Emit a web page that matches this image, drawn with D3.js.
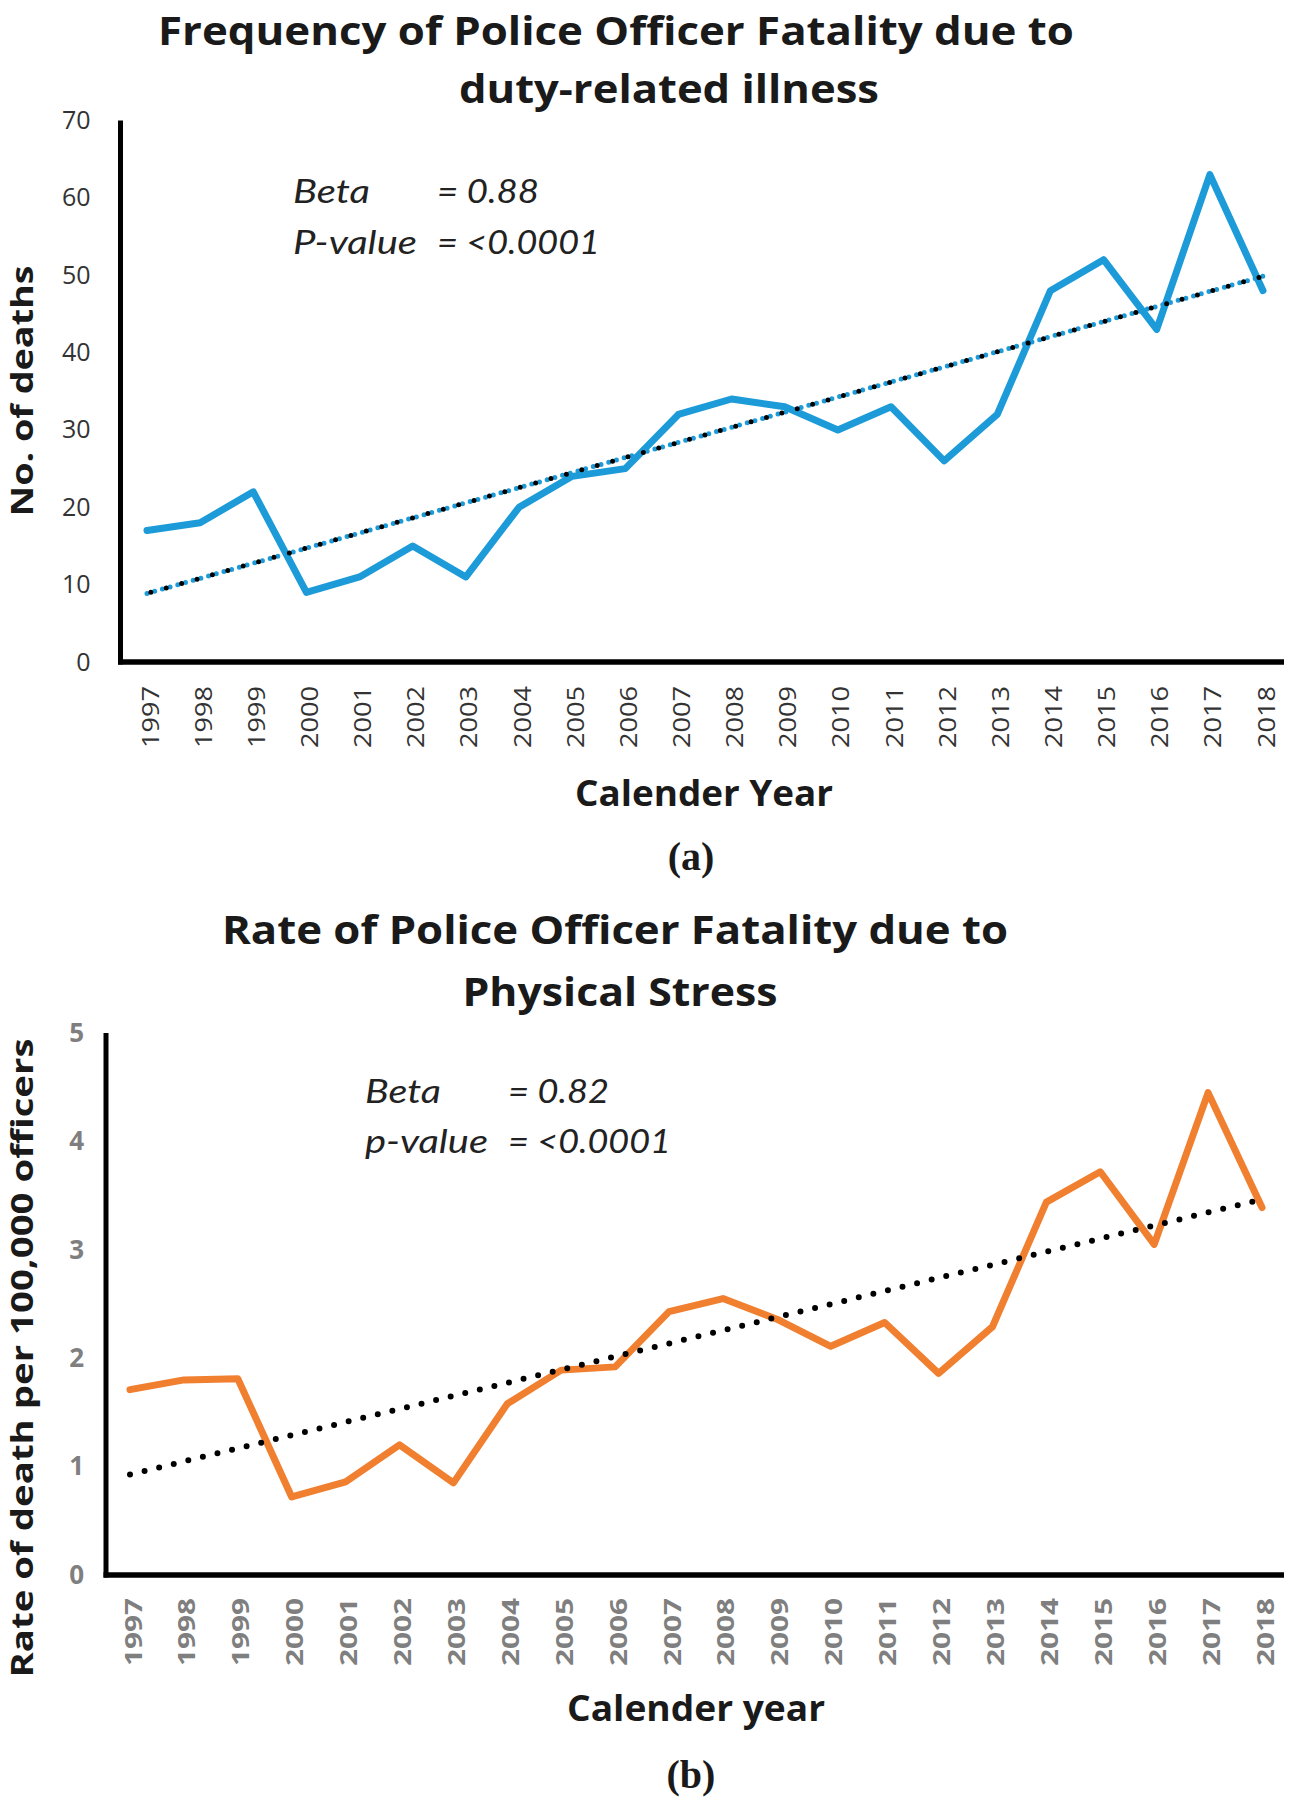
<!DOCTYPE html>
<html><head><meta charset="utf-8">
<script src="https://cdn.jsdelivr.net/npm/d3@7"></script>
<style>body{margin:0;background:#fff}svg{display:block}</style>
</head><body>
<script>
const years = ["1997","1998","1999","2000","2001","2002","2003","2004","2005","2006","2007","2008","2009","2010","2011","2012","2013","2014","2015","2016","2017","2018"];
const deaths = [17,18,22,9,11,15,11,20,24,25,32,34,33,30,33,26,32,48,52,43,63,48];
const rates = [1.71,1.80,1.81,0.72,0.86,1.20,0.85,1.58,1.89,1.92,2.43,2.55,2.36,2.11,2.33,1.86,2.29,3.44,3.72,3.05,4.45,3.39];
const ticksA = [0,10,20,30,40,50,60,70];
const ticksB = [0,1,2,3,4,5];
const titleA = ["Frequency of Police Officer Fatality due to","duty-related illness"];
const titleB = ["Rate of Police Officer Fatality due to","Physical Stress"];
const annA = [["Beta","= 0.88"],["P-value","= <0.0001"]];
const annB = [["Beta","= 0.82"],["p-value","= <0.0001"]];

function fit(vals){
  const n=vals.length, mx=(n-1)/2, my=d3.mean(vals);
  let sxy=0,sxx=0; vals.forEach((v,i)=>{sxy+=(i-mx)*(v-my);sxx+=(i-mx)*(i-mx);});
  const b=sxy/sxx, a=my-b*mx; return i=>a+b*i;
}

const svg = d3.select("body").append("svg").attr("width",1289).attr("height",1800);
const TF = "'Open Sans', 'DejaVu Sans', sans-serif";

function panel(cfg){
  const g = svg.append("g");
  const x = d3.scalePoint().domain(years).range(cfg.xr);
  const y = d3.scaleLinear().domain(cfg.yd).range(cfg.yr);
  cfg.title.forEach((t,i)=>{
    g.append("text").attr("x",cfg.tc[i][0]).attr("y",cfg.tc[i][1]).attr("text-anchor","middle")
     .attr("dominant-baseline","central").attr("font-family",TF).attr("font-weight","bold")
     .attr("font-size",40).attr("fill","#1a1a1a")
     .attr("textLength",cfg.tw[i]).attr("lengthAdjust","spacingAndGlyphs").text(t);
  });
  const ya = g.append("g").attr("transform",`translate(${cfg.yx},0)`)
    .call(d3.axisLeft(y).tickValues(cfg.ticks).tickSize(0).tickPadding(cfg.tp).tickFormat(d3.format("d")));
  ya.select(".domain").remove();
  ya.selectAll("text").attr("font-family",TF).attr("font-size",cfg.ytfs).attr("font-weight",cfg.ytw).attr("fill",cfg.ytc);
  const xa = g.append("g").attr("transform",`translate(0,${cfg.yr[0]})`)
    .call(d3.axisBottom(x).tickSize(0).tickPadding(0));
  xa.select(".domain").remove();
  xa.selectAll("text").attr("font-family",TF).attr("font-size",cfg.xtfs).attr("font-weight",cfg.xtw).attr("fill",cfg.xtc)
    .attr("text-anchor","end").attr("dominant-baseline","central").attr("dy",null)
    .attr("transform",`translate(${cfg.xdx},${cfg.xoff}) rotate(-90)`)
    .attr("textLength",cfg.xtl).attr("lengthAdjust","spacingAndGlyphs");
  g.append("line").attr("x1",cfg.yx).attr("x2",cfg.yx).attr("y1",cfg.yr[1]).attr("y2",cfg.yr[0]+2.5)
    .attr("stroke","#000").attr("stroke-width",5);
  g.append("line").attr("x1",cfg.yx-2.5).attr("x2",1284).attr("y1",cfg.yr[0]).attr("y2",cfg.yr[0])
    .attr("stroke","#000").attr("stroke-width",5.5);
  g.append("path").datum(cfg.vals).attr("fill","none").attr("stroke",cfg.color).attr("stroke-width",7)
    .attr("stroke-linejoin","round").attr("stroke-linecap","round")
    .attr("d",d3.line().x((d,i)=>x(years[i])).y(d=>y(d)));
  const f = fit(cfg.vals);
  const tl = [[x(years[0]),y(f(0))],[x(years[years.length-1]),y(f(years.length-1))]];
  if(cfg.blueDots){
    g.append("path").attr("d",d3.line()(tl)).attr("stroke",cfg.color).attr("stroke-width",5)
      .attr("stroke-linecap","round").attr("stroke-dasharray","0,8").attr("fill","none");
    g.append("path").attr("d",d3.line()(tl)).attr("stroke","#000").attr("stroke-width",5)
      .attr("stroke-linecap","round").attr("stroke-dasharray","0,16").attr("stroke-dashoffset",-4).attr("fill","none");
  } else {
    g.append("path").attr("d",d3.line()(tl)).attr("stroke","#000").attr("stroke-width",6)
      .attr("stroke-linecap","round").attr("stroke-dasharray","0,15").attr("fill","none");
  }
  cfg.ann.forEach((r,i)=>{
    g.append("text").attr("x",cfg.ax[0]).attr("y",cfg.ay[i]).attr("dominant-baseline","central")
      .attr("font-family","Lato, 'Open Sans', sans-serif").attr("font-style","italic").attr("font-size",32).attr("fill","#222")
      .attr("textLength",cfg.aw[i][0]).attr("lengthAdjust","spacingAndGlyphs").text(r[0]);
    g.append("text").attr("x",cfg.ax[1]).attr("y",cfg.ay[i]).attr("dominant-baseline","central")
      .attr("font-family","Lato, 'Open Sans', sans-serif").attr("font-style","italic").attr("font-size",32).attr("fill","#222")
      .attr("textLength",cfg.aw[i][1]).attr("lengthAdjust","spacingAndGlyphs").text(r[1]);
  });
  g.append("text").attr("transform",`translate(${cfg.yl[0]},${cfg.yl[1]}) rotate(-90)`).attr("text-anchor","middle")
    .attr("dominant-baseline","central").attr("font-family",TF).attr("font-weight","bold").attr("font-size",31)
    .attr("fill","#1a1a1a").attr("textLength",cfg.yl[2]).attr("lengthAdjust","spacingAndGlyphs").text(cfg.ylab);
  g.append("text").attr("x",cfg.xl[0]).attr("y",cfg.xl[1]).attr("text-anchor","middle").attr("dominant-baseline","central")
    .attr("font-family",TF).attr("font-weight","bold").attr("font-size",36).attr("fill","#1a1a1a")
    .attr("textLength",cfg.xl[2]).attr("lengthAdjust","spacingAndGlyphs").text(cfg.xlab);
  g.append("text").attr("x",cfg.tag[0]).attr("y",cfg.tag[1]).attr("text-anchor","middle").attr("dominant-baseline","central")
    .attr("font-family","'Liberation Serif', 'DejaVu Serif', serif").attr("font-weight","bold").attr("font-size",40)
    .attr("fill","#1a1a1a").text(cfg.tagText);
}

panel({
  xr:[147,1263], yd:[0,70], yr:[662,120.5], yx:120.5, ticks:ticksA, tp:30,
  ytfs:25, ytw:"normal", ytc:"#333", xtfs:23, xtw:"normal", xtc:"#333", xoff:24, xdx:2, xtl:62,
  vals:deaths, color:"#1C9BD8", blueDots:true,
  title:titleA, tc:[[616,29],[669,87]], tw:[916,420],
  ann:annA, ax:[293,437], ay:[190,241], aw:[[77,102],[124,163]],
  ylab:"No. of deaths", yl:[21,391,251], xlab:"Calender Year", xl:[704,792,258],
  tag:[691,856], tagText:"(a)"
});
panel({
  xr:[130,1262], yd:[0,5], yr:[1575,1033], yx:106, ticks:ticksB, tp:22,
  ytfs:26, ytw:"bold", ytc:"#7f7f7f", xtfs:23, xtw:"bold", xtc:"#7f7f7f", xoff:23, xdx:2, xtl:68,
  vals:rates, color:"#F07F30", blueDots:false,
  title:titleB, tc:[[615,928],[620,990]], tw:[786,315],
  ann:annB, ax:[365,508], ay:[1090,1140], aw:[[76,101],[123,163]],
  ylab:"Rate of death per 100,000 officers", yl:[21,1358,639], xlab:"Calender year", xl:[696,1707,258],
  tag:[691,1774], tagText:"(b)"
});
</script>
</body></html>
